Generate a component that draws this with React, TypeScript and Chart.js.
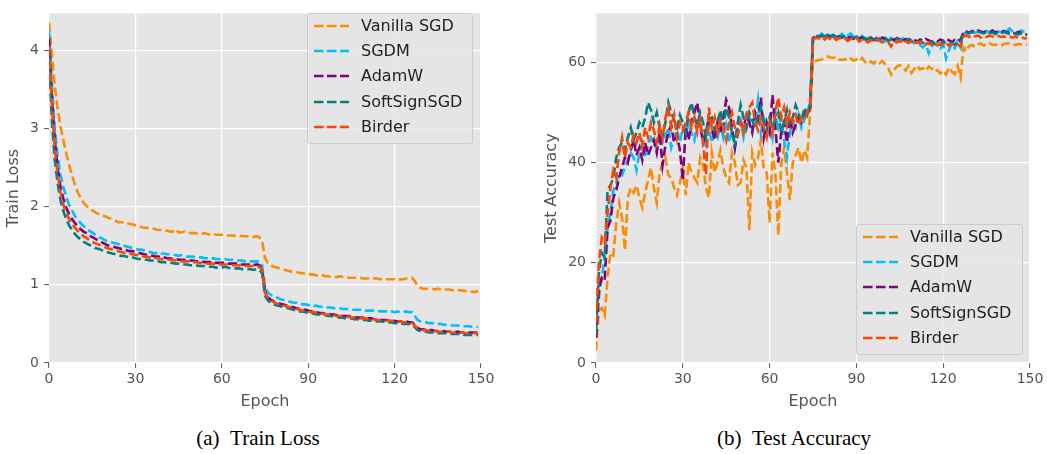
import React, { useEffect, useRef } from "react";
import { Chart, registerables } from "chart.js";

Chart.register(...registerables);

const epochs = Array.from({ length: 150 }, (_, i) => i);
const seriesNames = ["Vanilla SGD", "SGDM", "AdamW", "SoftSignSGD", "Birder"];
const seriesColors = ["#FF8C00", "#00BFFF", "#800080", "#008080", "#FF4500"];
const xTicks = [0, 30, 60, 90, 120, 150];
const lossTicks = [0, 1, 2, 3, 4];
const accTicks = [0, 20, 40, 60];

// ---------- Train loss ----------
const vanillaLoss = [
  4.35, 3.95, 3.55, 3.25, 3.02, 2.85, 2.68, 2.53, 2.4, 2.28,
  2.18, 2.11, 2.05, 2.01, 1.98, 1.95, 1.93, 1.91, 1.89, 1.88,
  1.87, 1.85, 1.84, 1.82, 1.8, 1.8, 1.8, 1.79, 1.78, 1.77,
  1.76, 1.75, 1.74, 1.73, 1.73, 1.72, 1.72, 1.71, 1.7, 1.7,
  1.69, 1.69, 1.68, 1.68, 1.71, 1.67, 1.67, 1.68, 1.67, 1.66,
  1.66, 1.66, 1.65, 1.65, 1.66, 1.65, 1.64, 1.65, 1.64, 1.64,
  1.64, 1.64, 1.63, 1.63, 1.63, 1.62, 1.63, 1.62, 1.62, 1.62,
  1.62, 1.61, 1.62, 1.61, 1.56, 1.34, 1.28, 1.25, 1.23, 1.22,
  1.21, 1.2, 1.19, 1.18, 1.17, 1.16, 1.16, 1.15, 1.15, 1.14,
  1.14, 1.13, 1.13, 1.12, 1.12, 1.12, 1.11, 1.11, 1.1, 1.1,
  1.1, 1.11, 1.1, 1.1, 1.09, 1.09, 1.09, 1.09, 1.09, 1.08,
  1.08, 1.08, 1.08, 1.08, 1.08, 1.07, 1.08, 1.07, 1.07, 1.07,
  1.07, 1.06, 1.07, 1.07, 1.08, 1.08, 1.09, 1.05, 0.98, 0.96,
  0.95, 0.95, 0.95, 0.95, 0.94, 0.95, 0.94, 0.94, 0.94, 0.94,
  0.93, 0.93, 0.93, 0.93, 0.92, 0.92, 0.92, 0.91, 0.91, 0.92,
];
const sgdmLoss = [
  4.25, 3.55, 3.0, 2.65, 2.4, 2.25, 2.12, 2.02, 1.95, 1.88,
  1.83, 1.79, 1.75, 1.72, 1.69, 1.67, 1.64, 1.62, 1.6, 1.58,
  1.56, 1.55, 1.54, 1.53, 1.52, 1.51, 1.5, 1.49, 1.48, 1.47,
  1.46, 1.45, 1.45, 1.44, 1.43, 1.42, 1.41, 1.4, 1.42, 1.4,
  1.4, 1.39, 1.39, 1.38, 1.38, 1.37, 1.38, 1.37, 1.36, 1.36,
  1.36, 1.35, 1.35, 1.35, 1.34, 1.34, 1.33, 1.34, 1.33, 1.33,
  1.32, 1.33, 1.32, 1.32, 1.32, 1.31, 1.31, 1.31, 1.3, 1.31,
  1.3, 1.3, 1.3, 1.3, 1.25, 0.98, 0.9, 0.87, 0.85, 0.84,
  0.82, 0.81, 0.8, 0.79, 0.78, 0.77, 0.77, 0.76, 0.75, 0.75,
  0.74, 0.74, 0.73, 0.73, 0.72, 0.72, 0.71, 0.71, 0.71, 0.7,
  0.7, 0.7, 0.69, 0.69, 0.69, 0.68, 0.68, 0.68, 0.68, 0.68,
  0.67, 0.67, 0.67, 0.67, 0.67, 0.66, 0.66, 0.66, 0.66, 0.66,
  0.65, 0.66, 0.65, 0.65, 0.66, 0.65, 0.65, 0.6, 0.55, 0.53,
  0.52, 0.52, 0.51, 0.51, 0.5, 0.5, 0.5, 0.49, 0.49, 0.49,
  0.48, 0.48, 0.48, 0.47, 0.47, 0.47, 0.47, 0.46, 0.46, 0.46,
];
const adamwLoss = [
  4.15, 3.4, 2.85, 2.5, 2.25, 2.1, 1.98, 1.9, 1.84, 1.79,
  1.75, 1.71, 1.68, 1.66, 1.63, 1.61, 1.59, 1.57, 1.55, 1.53,
  1.51, 1.5, 1.49, 1.48, 1.47, 1.46, 1.45, 1.44, 1.43, 1.43,
  1.42, 1.41, 1.4, 1.39, 1.38, 1.38, 1.37, 1.36, 1.36, 1.35,
  1.35, 1.34, 1.34, 1.33, 1.33, 1.32, 1.32, 1.32, 1.31, 1.31,
  1.31, 1.3, 1.3, 1.3, 1.29, 1.29, 1.29, 1.28, 1.28, 1.28,
  1.28, 1.28, 1.27, 1.27, 1.27, 1.27, 1.26, 1.26, 1.26, 1.26,
  1.26, 1.25, 1.26, 1.25, 1.2, 0.92, 0.84, 0.81, 0.79, 0.77,
  0.76, 0.75, 0.74, 0.73, 0.72, 0.71, 0.7, 0.69, 0.68, 0.68,
  0.67, 0.66, 0.66, 0.65, 0.64, 0.64, 0.63, 0.63, 0.62, 0.62,
  0.61, 0.61, 0.6, 0.6, 0.6, 0.59, 0.59, 0.58, 0.58, 0.58,
  0.57, 0.57, 0.57, 0.56, 0.56, 0.55, 0.55, 0.55, 0.54, 0.54,
  0.54, 0.53, 0.53, 0.53, 0.53, 0.52, 0.52, 0.49, 0.45, 0.43,
  0.43, 0.42, 0.42, 0.42, 0.41, 0.41, 0.41, 0.41, 0.4, 0.4,
  0.4, 0.4, 0.4, 0.39, 0.39, 0.39, 0.39, 0.39, 0.39, 0.39,
];
const softsignLoss = [
  3.95, 3.1, 2.6, 2.3, 2.08, 1.94, 1.84, 1.76, 1.7, 1.65,
  1.61, 1.58, 1.55, 1.53, 1.51, 1.49, 1.47, 1.46, 1.45, 1.43,
  1.42, 1.41, 1.4, 1.39, 1.38, 1.37, 1.37, 1.36, 1.35, 1.35,
  1.34, 1.33, 1.33, 1.32, 1.32, 1.31, 1.31, 1.3, 1.3, 1.29,
  1.29, 1.28, 1.28, 1.28, 1.27, 1.27, 1.26, 1.26, 1.26, 1.25,
  1.25, 1.25, 1.24, 1.24, 1.24, 1.23, 1.23, 1.23, 1.22, 1.22,
  1.22, 1.23, 1.22, 1.21, 1.21, 1.21, 1.21, 1.2, 1.2, 1.2,
  1.2, 1.19, 1.2, 1.19, 1.15, 0.86, 0.8, 0.77, 0.75, 0.74,
  0.73, 0.72, 0.71, 0.7, 0.69, 0.68, 0.67, 0.66, 0.66, 0.65,
  0.64, 0.64, 0.63, 0.62, 0.62, 0.61, 0.61, 0.6, 0.6, 0.59,
  0.59, 0.58, 0.58, 0.57, 0.57, 0.57, 0.56, 0.56, 0.55, 0.55,
  0.55, 0.54, 0.54, 0.54, 0.53, 0.53, 0.53, 0.52, 0.52, 0.52,
  0.51, 0.51, 0.51, 0.5, 0.5, 0.5, 0.49, 0.46, 0.42, 0.41,
  0.4, 0.4, 0.39, 0.39, 0.39, 0.38, 0.38, 0.38, 0.38, 0.37,
  0.37, 0.37, 0.37, 0.37, 0.36, 0.36, 0.36, 0.36, 0.36, 0.36,
];
const birderLoss = [
  4.05, 3.3, 2.75, 2.42, 2.18, 2.02, 1.92, 1.84, 1.78, 1.73,
  1.69, 1.65, 1.62, 1.6, 1.57, 1.55, 1.53, 1.52, 1.5, 1.49,
  1.47, 1.46, 1.45, 1.44, 1.43, 1.42, 1.41, 1.41, 1.4, 1.39,
  1.38, 1.38, 1.37, 1.36, 1.36, 1.35, 1.35, 1.34, 1.34, 1.33,
  1.33, 1.32, 1.32, 1.32, 1.31, 1.31, 1.3, 1.3, 1.3, 1.29,
  1.29, 1.29, 1.28, 1.28, 1.28, 1.27, 1.27, 1.27, 1.27, 1.26,
  1.26, 1.26, 1.26, 1.25, 1.25, 1.25, 1.25, 1.24, 1.24, 1.24,
  1.24, 1.24, 1.24, 1.23, 1.19, 0.9, 0.83, 0.8, 0.78, 0.76,
  0.75, 0.74, 0.73, 0.72, 0.71, 0.7, 0.69, 0.68, 0.67, 0.67,
  0.66, 0.65, 0.65, 0.64, 0.63, 0.63, 0.62, 0.62, 0.61, 0.61,
  0.6, 0.6, 0.6, 0.59, 0.59, 0.58, 0.58, 0.58, 0.57, 0.57,
  0.57, 0.56, 0.56, 0.56, 0.55, 0.55, 0.55, 0.54, 0.54, 0.54,
  0.53, 0.53, 0.53, 0.52, 0.52, 0.52, 0.51, 0.48, 0.44, 0.43,
  0.42, 0.42, 0.41, 0.41, 0.41, 0.4, 0.4, 0.4, 0.4, 0.4,
  0.39, 0.39, 0.39, 0.39, 0.39, 0.38, 0.38, 0.38, 0.38, 0.38,
];

// ---------- Test accuracy ----------
const vanillaAcc = [
  2.5, 10.5, 11, 9.5, 17, 22, 21.5, 28, 32, 29,
  22.5, 33, 35, 34, 35.5, 33, 31, 34, 36.5, 39,
  35, 32, 38, 40, 41, 37.5, 37, 35, 33.5, 36,
  39, 33.5, 40, 38, 37, 36, 41, 39.5, 35, 33,
  42, 38, 40, 42.5, 39, 37, 36, 42, 40, 35.5,
  36, 40.5, 39, 26.5, 42, 39.5, 41, 44.5, 38.5, 38,
  28, 42, 38, 25.5, 39.5, 43, 38, 32.5, 40, 41.5,
  43, 40, 42.5, 41, 50, 60, 60.3, 60.5, 60.6, 60.8,
  61.2, 61, 60.9, 61.1, 60.6, 60.5, 60.7, 60.3, 60.8, 60.4,
  60.6, 60.2, 60.9, 60.1, 59.7, 60.2, 59.8, 60.4, 59.9, 60.3,
  59.6, 58.8, 57.6, 58.5, 59.2, 59.5, 59.1, 58.4, 59.3, 57.9,
  58.7, 59.4, 58.6, 58.9, 58.3, 59.2, 58.8, 58.1, 58.5, 57.8,
  58.4, 57.6, 59, 58.2, 57.7, 59.3, 57, 63, 62.2, 63.3,
  63.5, 63.1, 63.6, 63.8, 63.4, 63.7, 63.9, 63.5, 63.6, 63.4,
  63.3, 63.7, 63.8, 63.9, 63.6, 63.5, 63.7, 63.6, 63.5, 63.6,
];
const sgdmAcc = [
  5, 13, 17, 21, 27, 30, 34.5, 36, 38, 37.5,
  39, 40.5, 42, 41, 38.5, 42, 44, 41, 43.5, 45,
  44, 42.5, 46, 44, 45.5, 47, 43, 45, 46.5, 44,
  47, 45.5, 48, 46, 44.5, 48, 47, 45, 43.5, 47,
  44, 46, 45, 48, 45, 47.5, 44, 46.5, 43, 47,
  48.5, 45, 47, 49, 46.5, 48, 52.5, 46, 49, 47.5,
  48, 45, 50, 47, 49, 44.5, 41, 46, 48, 47,
  49.5, 47, 48.5, 50, 52, 65, 65.5, 65.2, 65.8, 65.3,
  65.6, 65.4, 65.1, 65.5, 65.2, 65.7, 64.9, 65.4, 65.8, 65.2,
  65, 64.8, 65.3, 64.6, 64.9, 65.1, 64.5, 64.8, 64.4, 64.7,
  64.2, 64.6, 64.9, 64.3, 64, 64.5, 64.8, 64.2, 63.9, 64.4,
  63.8, 64.1, 63.5, 63, 63.7, 61.8, 63.2, 63.9, 63.4, 62.8,
  63.6, 60.8, 62.5, 63.8, 62.9, 64.2, 63, 65.8, 66, 65.7,
  66.1, 65.9, 66.2, 65.8, 66, 66.3, 65.9, 66.1, 65.8, 66.2,
  66, 65.9, 66.3, 66.8, 66.1, 65.9, 66, 66.4, 66.1, 66.2,
];
const adamwAcc = [
  5, 15, 17, 16.5, 27, 28.5, 33, 34.5, 37, 39,
  41, 40, 42.5, 44.5, 41.5, 43, 40.5, 44, 41.5, 43,
  44.5, 42, 46, 39.5, 43.5, 46, 47.5, 44, 45.5, 42.5,
  36.5, 47, 44.5, 48, 50, 52, 47.5, 44, 46, 49,
  47, 44.5, 48, 46, 49, 52.5, 51, 47, 43, 46.5,
  48, 47, 49.5, 48, 46, 50, 48.5, 53, 45, 48,
  46, 53.5, 47, 40, 46, 48, 44, 49, 46, 47.5,
  49, 48, 50, 49.5, 51, 64.8, 65.2, 65, 65.4, 64.9,
  65.3, 65.1, 65.5, 64.8, 65.2, 65, 65.4, 64.9, 65.1, 64.7,
  65.2, 64.8, 65, 64.6, 65.1, 64.8, 64.5, 64.9, 64.6, 65,
  64.7, 64.4, 64.8, 64.5, 64.9, 64.6, 64.3, 64.7, 64.4, 64.8,
  64.5, 64.2, 64.6, 64.3, 64.7, 64.4, 64.1, 64.5, 64.2, 64.6,
  64.3, 64.8, 64.4, 64.1, 64.5, 64.2, 64.6, 66, 66.2, 65.9,
  66.3, 66.1, 66.4, 66.2, 66, 66.3, 66.1, 66.4, 66, 66.2,
  66.1, 66.3, 65.9, 66.2, 66, 65.8, 66.1, 65.9, 65.7, 65.5,
];
const softsignAcc = [
  6, 18, 22, 21, 34.5, 35.5, 37, 41, 43, 44,
  42.5, 45, 47, 44.5, 46, 48, 47, 49, 52, 50.5,
  48, 50, 47, 45, 48, 52, 50, 48.5, 47, 49.5,
  48, 46, 50, 52, 49, 47.5, 50, 48, 45, 48.5,
  49, 46.5, 48, 50.5, 47, 51, 49, 46, 44, 48,
  51.5, 49, 47, 50, 48.5, 47, 49, 51, 48, 46.5,
  49, 47, 48.5, 50, 46, 48, 50.5, 47.5, 49, 51.5,
  50, 48, 51, 49.5, 51, 64.9, 65.3, 65.1, 65.5, 65.2,
  65.6, 65, 65.4, 65.2, 64.8, 65.3, 65, 64.7, 65.1, 64.9,
  65.2, 64.8, 64.5, 64.9, 64.6, 65, 64.7, 64.4, 64.8, 64.5,
  64.9, 64.3, 64.6, 64.4, 64.8, 64.2, 64.5, 64.3, 64.7, 64.1,
  64.4, 64, 64.3, 63.9, 64.2, 63.8, 64.1, 63.7, 64, 63.6,
  64.2, 63.8, 63.5, 63.9, 63.6, 64, 63.8, 65.9, 66, 65.8,
  66.1, 65.9, 66.2, 66, 65.8, 66.1, 65.9, 66, 65.7, 66,
  65.8, 66.1, 65.9, 65.7, 65.9, 65.8, 65.6, 65.8, 65.5, 65.6,
];
const birderAcc = [
  8, 20, 25, 24, 30, 35, 38.5, 37, 42, 45,
  41, 44, 43, 45.5, 44, 46, 43, 47, 45, 48,
  46.5, 44, 47.5, 45, 49, 51, 47, 49.5, 45, 48,
  46.5, 48, 50, 47, 49, 46, 48.5, 44, 37.5, 51,
  47, 49, 46, 48.5, 47, 44.5, 48, 50, 47, 45.5,
  48, 46, 49.5, 51, 52, 48, 46.5, 49, 47, 45,
  48, 46, 50, 53, 49, 51, 47.5, 50, 48, 49.5,
  47.5, 49, 48.5, 50, 51.5, 64.5, 65, 64.8, 65.2, 64.6,
  65, 64.7, 65.1, 64.5, 64.9, 64.6, 64.8, 64.3, 64.7, 64.5,
  64.9, 64.2, 64.6, 64.4, 64, 64.5, 64.2, 64.6, 64.3, 64,
  64.4, 64.1, 63.2, 64.3, 64, 64.4, 63.8, 64.2, 63.9, 64.3,
  63.7, 64.1, 63.8, 64.2, 63.6, 64, 63.5, 63.9, 63.4, 63.8,
  63.5, 63.9, 63.3, 63.7, 63.4, 63.6, 63.2, 65.2, 65.4, 65.1,
  65.5, 65.2, 65.4, 65, 65.3, 65.1, 65.4, 65.2, 65, 65.3,
  65.1, 65.2, 64.9, 65.1, 65, 65.2, 64.9, 65.1, 64.8, 64.9,
];

const lossSeries = [vanillaLoss, sgdmLoss, adamwLoss, softsignLoss, birderLoss];
const accSeries = [vanillaAcc, sgdmAcc, adamwAcc, softsignAcc, birderAcc];

const FONT = "'DejaVu Sans', sans-serif";
const GRAY = "#555555";

const plotBg = {
  id: "plotBg",
  beforeDraw(chart: any) {
    const { ctx, chartArea: a } = chart;
    ctx.save();
    ctx.fillStyle = "#E5E5E5";
    ctx.fillRect(a.left, a.top, a.right - a.left, a.bottom - a.top);
    ctx.restore();
  },
};

type PanelProps = {
  left: number;
  width: number;
  height: number;
  series: number[][];
  yMax: number;
  yTicks: number[];
  yTitle: string;
  yAxisWidth: number;
  yTitlePad: number;
  rightPad: number;
};

function Panel(p: PanelProps) {
  const ref = useRef<HTMLCanvasElement | null>(null);
  useEffect(() => {
    if (!ref.current) return;
    const datasets = p.series.map((vals, i) => ({
      label: seriesNames[i],
      data: epochs.map((e, j) => ({ x: e, y: vals[j] })),
      borderColor: seriesColors[i],
      backgroundColor: seriesColors[i],
      borderWidth: 2.6,
      borderDash: [9, 4],
      borderCapStyle: "butt" as const,
      pointRadius: 0,
      tension: 0,
      fill: false,
      order: seriesNames.length - i,
    }));
    const chart = new Chart(ref.current, {
      type: "line",
      data: { datasets },
      plugins: [plotBg],
      options: {
        responsive: false,
        animation: false,
        devicePixelRatio: 1,
        layout: { padding: { top: 5, right: p.rightPad, left: 0, bottom: 0 } },
        plugins: { legend: { display: false }, tooltip: { enabled: false } },
        scales: {
          x: {
            type: "linear",
            min: 0,
            max: 150,
            afterBuildTicks: (s: any) => {
              s.ticks = xTicks.map((v) => ({ value: v }));
            },
            afterFit: (s: any) => {
              s.height = 57;
            },
            grid: { color: "#ffffff", lineWidth: 1.2, tickColor: GRAY, tickLength: 5, tickWidth: 1 },
            border: { display: false },
            ticks: { color: GRAY, font: { family: FONT, size: 14 }, padding: 3, maxRotation: 0, autoSkip: false },
            title: {
              display: true,
              text: "Epoch",
              color: GRAY,
              font: { family: FONT, size: 16, lineHeight: 1.2 },
              padding: { top: 0, bottom: 9 },
            },
          },
          y: {
            type: "linear",
            min: 0,
            max: p.yMax,
            afterBuildTicks: (s: any) => {
              s.ticks = p.yTicks.map((v) => ({ value: v }));
            },
            afterFit: (s: any) => {
              s.width = p.yAxisWidth;
            },
            grid: { color: "#ffffff", lineWidth: 1.2, tickColor: GRAY, tickLength: 5, tickWidth: 1 },
            border: { display: false },
            ticks: { color: GRAY, font: { family: FONT, size: 14 }, padding: 5, autoSkip: false },
            title: {
              display: true,
              text: p.yTitle,
              color: GRAY,
              font: { family: FONT, size: 16, lineHeight: 1.2 },
              padding: { top: p.yTitlePad, bottom: 0 },
            },
          },
        },
      } as any,
    });
    return () => chart.destroy();
  }, []);
  return (
    <canvas
      ref={ref}
      width={p.width}
      height={p.height}
      style={{ position: "absolute", left: p.left, top: 0, width: p.width, height: p.height }}
    />
  );
}

function Legend({ left, top, width, height }: { left: number; top: number; width: number; height: number }) {
  return (
    <div
      style={{
        position: "absolute",
        left,
        top,
        width,
        height,
        boxSizing: "border-box",
        background: "rgba(229,229,229,0.8)",
        border: "1px solid #cccccc",
        borderRadius: 3,
        fontFamily: FONT,
        fontSize: 16,
        color: "#222",
      }}
    >
      {seriesNames.map((name, i) => (
        <div key={name} style={{ position: "absolute", left: 0, top: 12 + i * 25.2 - 10, height: 20, width: "100%" }}>
          <svg width={40} height={20} style={{ position: "absolute", left: 5, top: 0 }}>
            <line
              x1={1}
              y1={10}
              x2={36}
              y2={10}
              stroke={seriesColors[i]}
              strokeWidth={2.6}
              strokeDasharray="9.5 3.5"
            />
          </svg>
          <span style={{ position: "absolute", left: 53, top: 0, lineHeight: "20px", whiteSpace: "nowrap" }}>{name}</span>
        </div>
      ))}
    </div>
  );
}

export default function App() {
  return (
    <div style={{ position: "absolute", left: 0, top: 0, width: 1047, height: 454, background: "#fff", overflow: "hidden" }}>
      <Panel
        left={0}
        width={500}
        height={420}
        series={lossSeries}
        yMax={4.47}
        yTicks={lossTicks}
        yTitle="Train Loss"
        yAxisWidth={49}
        yTitlePad={4}
        rightPad={19}
      />
      <Panel
        left={527}
        width={520}
        height={420}
        series={accSeries}
        yMax={69.8}
        yTicks={accTicks}
        yTitle="Test Accuracy"
        yAxisWidth={69}
        yTitlePad={15}
        rightPad={17}
      />
      <Legend left={307} top={13} width={166} height={131} />
      <Legend left={856} top={224} width={167} height={131} />
      <div
        style={{
          position: "absolute",
          left: 158,
          width: 200,
          top: 426,
          textAlign: "center",
          fontFamily: "'Liberation Serif', 'Times New Roman', serif",
          fontSize: 21,
          lineHeight: "24px",
          color: "#000",
          whiteSpace: "nowrap",
        }}
      >
        (a)&nbsp;&nbsp;Train Loss
      </div>
      <div
        style={{
          position: "absolute",
          left: 694,
          width: 200,
          top: 426,
          textAlign: "center",
          fontFamily: "'Liberation Serif', 'Times New Roman', serif",
          fontSize: 21,
          lineHeight: "24px",
          color: "#000",
          whiteSpace: "nowrap",
        }}
      >
        (b)&nbsp;&nbsp;Test Accuracy
      </div>
    </div>
  );
}
